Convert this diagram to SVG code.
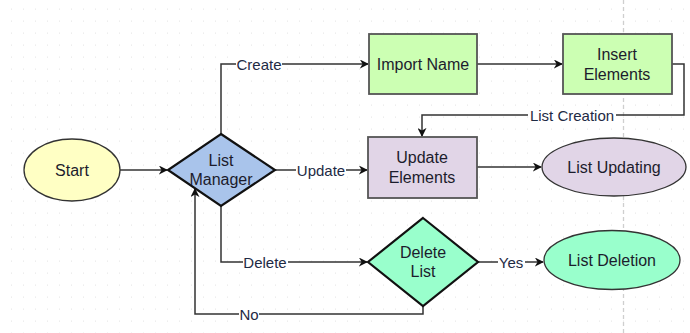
<svg xmlns="http://www.w3.org/2000/svg" width="690" height="333" viewBox="0 0 690 333">
  <defs>
    <pattern id="grid" x="0" y="0" width="12" height="12" patternUnits="userSpaceOnUse">
      <rect x="11.5" y="8.5" width="1.3" height="1.3" fill="#d4d4d4"/>
    </pattern>
    <marker id="arrow" viewBox="0 0 10 10" refX="9" refY="5" markerWidth="9" markerHeight="9" markerUnits="userSpaceOnUse" orient="auto">
      <path d="M0,0 L10,5 L0,10 L3,5 Z" fill="#111"/>
    </marker>
    <style>
      text { font-family: "Liberation Sans", Arial, sans-serif; font-size: 16px; fill: #1c1c2c; text-anchor: middle; dominant-baseline: central; }
      .edge { fill: none; stroke: #333; stroke-width: 1.5; }
      .lbl { fill: #1e2a44; font-size: 15px; }
      .lblbg { fill: #ffffff; }
      .box { stroke: #555; stroke-width: 1.8; }
      .dia { stroke: #111; stroke-width: 2.2; }
      .ell { stroke: #333; stroke-width: 1.3; }
    </style>
  </defs>

  <!-- canvas background with dotted grid and page break -->
  <rect width="690" height="333" fill="#ffffff"/>
  <rect width="690" height="333" fill="url(#grid)"/>
  <line x1="623.5" y1="0" x2="623.5" y2="333" stroke="#cfcfcf" stroke-width="1.3" stroke-dasharray="4 3"/>

  <!-- connectors -->
  <g id="connectors">
    <path class="edge" d="M120,170 L167,170" marker-end="url(#arrow)"/>
    <path class="edge" d="M221,134 L221,64 L368,64" marker-end="url(#arrow)"/>
    <path class="edge" d="M477,64 L562,64" marker-end="url(#arrow)"/>
    <path class="edge" d="M672,64 L684,64 L684,115 L422,115 L422,136" marker-end="url(#arrow)"/>
    <path class="edge" d="M275,170 L367,170" marker-end="url(#arrow)"/>
    <path class="edge" d="M477,167 L541,167" marker-end="url(#arrow)"/>
    <path class="edge" d="M221,206 L221,262 L367,262" marker-end="url(#arrow)"/>
    <path class="edge" d="M478,262 L543,262" marker-end="url(#arrow)"/>
    <path class="edge" d="M423,306 L423,314 L195,314 L195,189" marker-end="url(#arrow)"/>

    <!-- edge labels -->
    <rect class="lblbg" x="236" y="56" width="46" height="16"/>
    <text class="lbl" x="259" y="64">Create</text>
    <rect class="lblbg" x="528" y="107" width="88" height="16"/>
    <text class="lbl" x="572" y="115">List Creation</text>
    <rect class="lblbg" x="296" y="162" width="50" height="16"/>
    <text class="lbl" x="321" y="170">Update</text>
    <rect class="lblbg" x="243" y="254" width="45" height="16"/>
    <text class="lbl" x="265" y="262">Delete</text>
    <rect class="lblbg" x="498" y="254" width="27" height="16"/>
    <text class="lbl" x="511" y="262">Yes</text>
    <rect class="lblbg" x="239" y="306" width="20" height="16"/>
    <text class="lbl" x="249" y="314">No</text>
  </g>

  <!-- nodes -->
  <g id="start">
    <ellipse class="ell" cx="72" cy="170" rx="48" ry="31" fill="#ffffc4"/>
    <text x="72" y="170" font-size="15.5">Start</text>
  </g>

  <g id="list-manager">
    <polygon class="dia" points="221,134 275,170 221,206 168,170" fill="#a9c4eb"/>
    <text x="221" y="160">List</text>
    <text x="221" y="179">Manager</text>
  </g>

  <g id="import-name">
    <rect class="box" x="369" y="34" width="108" height="60" fill="#ccffb3"/>
    <text x="423" y="64">Import Name</text>
  </g>

  <g id="insert-elements">
    <rect class="box" x="563" y="34" width="109" height="60" fill="#ccffb3"/>
    <text x="617" y="54">Insert</text>
    <text x="617" y="74">Elements</text>
  </g>

  <g id="update-elements">
    <rect class="box" x="368" y="137" width="109" height="61" fill="#e1d5e7"/>
    <text x="422" y="157">Update</text>
    <text x="422" y="177">Elements</text>
  </g>

  <g id="list-updating">
    <ellipse class="ell" cx="614" cy="167" rx="72" ry="29" fill="#e1d5e7"/>
    <text x="614" y="167" font-size="15.5">List Updating</text>
  </g>

  <g id="delete-list">
    <polygon class="dia" points="423,218 478,262 423,306 368,262" fill="#99ffcc"/>
    <text x="423" y="252">Delete</text>
    <text x="423" y="271">List</text>
  </g>

  <g id="list-deletion">
    <ellipse class="ell" cx="612" cy="260" rx="68" ry="29.5" fill="#99ffcc"/>
    <text x="612" y="260" font-size="15.5">List Deletion</text>
  </g>
</svg>
